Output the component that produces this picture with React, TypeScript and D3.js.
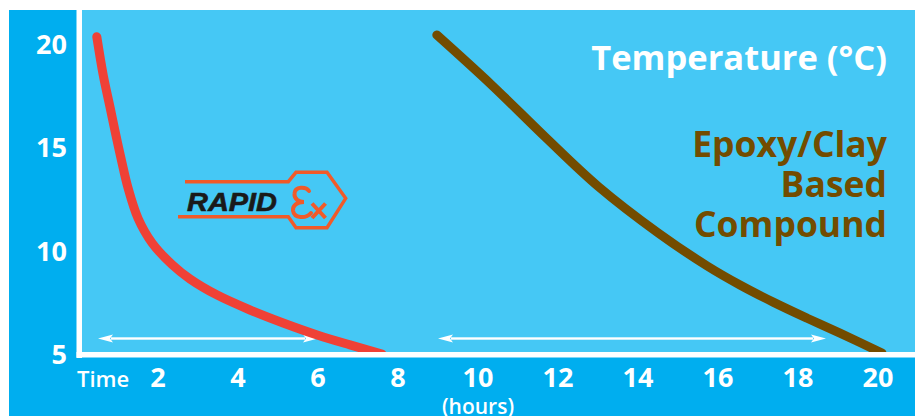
import * as d3 from "d3";

// cooling curves: time in hours, temperature in °C
const rapidTime = [0.47, 0.63, 0.8, 0.93, 1.09, 1.25, 1.5, 1.85, 2.35, 2.8, 3.48, 4.3, 5.13, 5.98, 6.8, 7.6];
const rapidTemp = [20.35, 18.5, 16.95, 15.75, 14.34, 13.04, 11.57, 10.38, 9.33, 8.63, 7.85, 7.13, 6.5, 5.92, 5.44, 5.0];
const epoxyTime = [8.97, 10.34, 11.68, 13.01, 14.51, 15.73, 16.55, 17.38, 18.23, 19.05, 20.1];
const epoxyTemp = [20.44, 18.02, 15.5, 13.1, 10.85, 9.26, 8.34, 7.51, 6.73, 6.01, 5.05];

// setting-time spans shown as double arrows
const spanStart = [0.5, 9.0];
const spanEnd = [6.0, 18.7];
const spanTemp = 5.75;

const xTicks = [2, 4, 6, 8, 10, 12, 14, 16, 18, 20];
const yTicks = [5, 10, 15, 20];

const width = 915;
const height = 416;
const font = "'Open Sans', 'Noto Sans', sans-serif";

const darkBlue = "#00AEEF";
const lightBlue = "#45C8F5";
const red = "#EF4136";
const brown = "#734C00";
const orange = "#F15A29";

const x = d3.scaleLinear().domain([0, 20]).range([78, 878]);
const y = d3.scaleLinear().domain([5, 20]).range([354, 44]);

const line = d3.line<[number, number]>()
    .x(d => x(d[0]))
    .y(d => y(d[1]))
    .curve(d3.curveCatmullRom.alpha(0.5));

const rapid = rapidTime.map((t, i) => [t, rapidTemp[i]] as [number, number]);
const epoxy = epoxyTime.map((t, i) => [t, epoxyTemp[i]] as [number, number]);

const Arrow = ({ x1, x2, yy }: { x1: number, x2: number, yy: number }) => {
    const head = 15;
    const half = 4;
    return (
        <g fill="#fff" stroke="none">
            <rect x={x1 + head - 2} y={yy - 1.2} width={x2 - x1 - 2 * head + 4} height={2.4} />
            <path d={`M${x1},${yy} L${x1 + head},${yy - half} L${x1 + head - 3},${yy} L${x1 + head},${yy + half} Z`} />
            <path d={`M${x2},${yy} L${x2 - head},${yy - half} L${x2 - head + 3},${yy} L${x2 - head},${yy + half} Z`} />
        </g>
    );
};

const Logo = () => (
    <g>
        <path
            d="M185,181.7 H288.3 L296,172.3 H327 L345.7,198.3 L327,227.7 H296 L288.3,216.7 H178"
            fill="none"
            stroke={orange}
            strokeWidth={3.4}
            strokeLinejoin="miter"
        />
        <text
            x={187}
            y={210.5}
            fontFamily="'Liberation Sans', Arial, sans-serif"
            fontWeight="bold"
            fontStyle="italic"
            fontSize={26}
            fill="#1a1a1a"
            stroke="#1a1a1a"
            strokeWidth={0.6}
            textLength={90}
            lengthAdjust="spacingAndGlyphs"
        >RAPID</text>
        {/* script E */}
        <path
            d="M309,191 C306,186.5 295,186 294.5,193.5 C294,199 299,202 304,202 C297,202 292.5,205.5 293,210.5 C294,218.5 306,219 311,213"
            fill="none"
            stroke={orange}
            strokeWidth={4}
            strokeLinecap="round"
        />
        <path d="M312,203.5 L325.5,218 M325.5,203.5 L312,218" stroke={orange} strokeWidth={4} />
    </g>
);

const App = () => {
    return (
        <svg width={width} height={height} style={{ position: 'absolute', left: 0, top: 0, background: '#fff' }}>
            <defs>
                <clipPath id="plot">
                    <rect x={82} y={10} width={width - 82} height={342} />
                </clipPath>
            </defs>
            <rect x={9} y={10} width={width - 9} height={height - 10} fill={darkBlue} />
            <rect x={82} y={10} width={width - 82} height={342} fill={lightBlue} />

            <g clipPath="url(#plot)">
                <Logo />
                { spanStart.map((s, i) => (
                    <Arrow key={i} x1={x(s)} x2={x(spanEnd[i])} yy={y(spanTemp)} />
                )) }
                <path d={line(rapid) ?? ''} fill="none" stroke={red} strokeWidth={9} strokeLinecap="round" />
                <path d={line(epoxy) ?? ''} fill="none" stroke={brown} strokeWidth={9} strokeLinecap="round" />
            </g>

            {/* axis frame */}
            <rect x={76.5} y={10} width={5.5} height={348} fill="#fff" />
            <rect x={76.5} y={352} width={width - 76.5} height={5.5} fill="#fff" />

            <g fontFamily={font} fontWeight="bold" fill="#fff">
                { yTicks.map(v => (
                    <text key={v} x={67} y={y(v) + 10} textAnchor="end" fontSize={27}>{v}</text>
                )) }
                { xTicks.map(v => (
                    <text key={v} x={x(v)} y={387} textAnchor="middle" fontSize={27}>{v}</text>
                )) }
                <text x={77} y={387} fontSize={22} fontWeight={600}>Time</text>
                <text x={x(10)} y={414} textAnchor="middle" fontSize={21} fontWeight={600}>(hours)</text>
                <text x={887} y={70} textAnchor="end" fontSize={34.5}>Temperature (°C)</text>
            </g>

            <g fontFamily={font} fontWeight="bold" fill={brown} fontSize={35.5} textAnchor="end">
                <text x={887} y={157}>Epoxy/Clay</text>
                <text x={887} y={197}>Based</text>
                <text x={887} y={237}>Compound</text>
            </g>
        </svg>
    );
}

export default App;
